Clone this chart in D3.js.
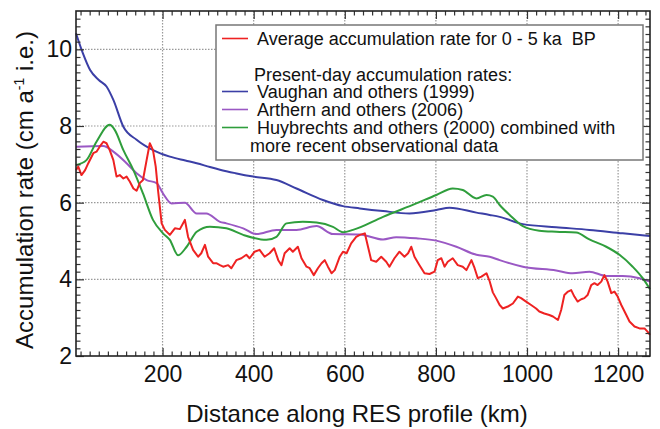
<!DOCTYPE html>
<html>
<head>
<meta charset="utf-8">
<script src="https://cdn.jsdelivr.net/npm/d3@7"></script>
<style>
  html, body { margin: 0; padding: 0; background: #fff; }
  svg { display: block; font-family: "Liberation Sans", Arial, Helvetica, sans-serif; }
  text { white-space: pre; }
</style>
</head>
<body>
<svg id="chart" width="660" height="429"></svg>
<script>
// ---------------- DATA ----------------
const xTicks = [200, 400, 600, 800, 1000, 1200];
const yTicks = [2, 4, 6, 8, 10];

const redKm = [10, 15, 22, 30, 37, 48, 55, 62, 70, 77, 84, 92, 99, 106, 114, 121, 128, 136, 143, 150, 157, 165, 172, 179, 185, 190, 198, 205, 216, 227, 238, 249, 256, 267, 278, 285, 293, 300, 311, 318, 326, 333, 344, 351, 362, 373, 384, 391, 402, 413, 424, 435, 445, 454, 461, 468, 479, 486, 497, 505, 516, 523, 532, 541, 549, 556, 563, 571, 578, 589, 596, 604, 614, 625, 633, 644, 651, 658, 669, 680, 691, 698, 709, 720, 731, 739, 746, 753, 764, 775, 786, 797, 804, 812, 819, 826, 837, 848, 859, 867, 878, 885, 892, 900, 911, 918, 925, 932, 940, 947, 958, 969, 980, 987, 998, 1009, 1020, 1027, 1038, 1049, 1057, 1068, 1075, 1082, 1090, 1097, 1104, 1111, 1119, 1126, 1133, 1141, 1148, 1155, 1163, 1170, 1177, 1185, 1192, 1199, 1207, 1218, 1225, 1236, 1247, 1258, 1265, 1270];
const redVal = [6.85, 6.94, 6.72, 6.85, 7.03, 7.29, 7.33, 7.46, 7.59, 7.55, 7.37, 7.11, 6.68, 6.72, 6.63, 6.68, 6.55, 6.37, 6.31, 6.51, 6.59, 7.11, 7.55, 7.37, 6.94, 6.33, 5.46, 5.29, 5.16, 5.33, 5.31, 5.55, 5.11, 4.77, 4.59, 4.68, 4.90, 4.59, 4.42, 4.42, 4.37, 4.33, 4.37, 4.29, 4.50, 4.55, 4.64, 4.55, 4.72, 4.77, 4.59, 4.68, 4.81, 4.50, 4.37, 4.68, 4.81, 4.72, 4.85, 4.55, 4.33, 4.29, 4.11, 4.29, 4.42, 4.50, 4.33, 4.16, 4.24, 4.59, 4.72, 4.68, 4.94, 5.11, 5.16, 5.20, 4.85, 4.50, 4.46, 4.59, 4.46, 4.33, 4.55, 4.72, 4.59, 4.68, 4.85, 4.59, 4.37, 4.16, 4.14, 4.20, 4.50, 4.55, 4.33, 4.46, 4.55, 4.37, 4.33, 4.24, 4.50, 4.29, 4.03, 4.07, 4.16, 3.95, 3.66, 3.51, 3.33, 3.24, 3.29, 3.37, 3.55, 3.51, 3.42, 3.33, 3.24, 3.16, 3.11, 3.07, 3.03, 2.94, 3.20, 3.59, 3.68, 3.72, 3.55, 3.42, 3.48, 3.51, 3.59, 3.85, 3.90, 3.85, 3.94, 4.11, 3.94, 3.64, 3.68, 3.55, 3.33, 3.07, 2.90, 2.77, 2.72, 2.72, 2.63, 2.55];

const blueKm = [10, 25, 41, 60, 77, 92, 114, 143, 179, 216, 250, 275, 304, 326, 360, 399, 450, 494, 552, 596, 633, 684, 742, 801, 830, 889, 918, 940, 991, 1064, 1137, 1210, 1270];
const blueVal = [10.42, 9.9, 9.46, 9.2, 9.03, 8.68, 7.98, 7.64, 7.37, 7.20, 7.10, 7.03, 6.93, 6.86, 6.77, 6.68, 6.59, 6.37, 6.07, 5.91, 5.85, 5.78, 5.72, 5.81, 5.87, 5.74, 5.68, 5.63, 5.44, 5.36, 5.29, 5.20, 5.13];

const purpleKm = [10, 70, 92, 121, 143, 165, 187, 201, 220, 249, 275, 296, 326, 340, 377, 406, 450, 494, 538, 574, 633, 684, 713, 757, 801, 845, 889, 918, 940, 991, 1064, 1100, 1137, 1174, 1210, 1247, 1270];
const purpleVal = [7.46, 7.48, 7.33, 7.03, 6.77, 6.59, 6.51, 6.24, 5.98, 6.00, 5.72, 5.72, 5.50, 5.46, 5.33, 5.18, 5.29, 5.29, 5.39, 5.18, 5.17, 5.04, 5.10, 5.07, 5.01, 4.85, 4.64, 4.59, 4.50, 4.33, 4.23, 4.16, 4.20, 4.09, 4.09, 4.03, 3.94];

const greenKm = [10, 33, 55, 84, 95, 114, 136, 157, 179, 201, 216, 234, 253, 275, 304, 340, 377, 428, 450, 472, 508, 538, 574, 596, 618, 684, 757, 801, 837, 859, 889, 911, 925, 940, 962, 991, 1027, 1064, 1108, 1137, 1174, 1203, 1232, 1254, 1270];
const greenVal = [6.98, 7.11, 7.59, 8.03, 7.90, 7.37, 6.85, 6.24, 5.55, 5.20, 5.03, 4.63, 4.85, 5.24, 5.37, 5.33, 5.16, 5.03, 5.11, 5.46, 5.50, 5.48, 5.37, 5.23, 5.29, 5.63, 5.98, 6.20, 6.37, 6.33, 6.11, 6.20, 6.16, 5.94, 5.68, 5.39, 5.27, 5.24, 5.22, 5.04, 4.85, 4.64, 4.33, 4.03, 3.74];

const legendLabels = [
  "Average accumulation rate for 0 - 5 ka  BP",
  "Present-day accumulation rates:",
  "Vaughan and others (1999)",
  "Arthern and others (2006)",
  "Huybrechts and others (2000) combined with",
  "more recent observational data"
];
const xTitle = "Distance along RES profile (km)";

// ---------------- CHART ----------------
const colors = { red: "#ee2222", blue: "#3b3fa6", purple: "#9a58c4", green: "#2f9e3c" };
const L = 76, T = 11, R = 650, B = 356;
const svg = d3.select("#chart");
const x = d3.scaleLinear().domain([10, 1270]).range([L, R]);
const y = d3.scaleLinear().domain([2, 11]).range([B, T]);

// grid
const grid = svg.append("g");
grid.selectAll("line.gx").data(xTicks).join("line")
  .attr("x1", d => x(d)).attr("x2", d => x(d)).attr("y1", T).attr("y2", B)
  .attr("stroke", "#999").attr("stroke-width", 1.2).attr("stroke-dasharray", "1.5,1.5");
grid.selectAll("line.gy").data(yTicks.filter(d => d > 2)).join("line")
  .attr("x1", L).attr("x2", R).attr("y1", d => y(d)).attr("y2", d => y(d))
  .attr("stroke", "#999").attr("stroke-width", 1.2).attr("stroke-dasharray", "1.5,1.5");

// series
const line = d3.line().x(d => x(d[0])).y(d => y(d[1]));
function series(km, val, color, curve) {
  svg.append("path")
    .datum(km.map((k, i) => [k, val[i]]))
    .attr("fill", "none").attr("stroke", color).attr("stroke-width", 2)
    .attr("stroke-linejoin", "round")
    .attr("d", line.curve(curve));
}
series(blueKm, blueVal, colors.blue, d3.curveMonotoneX);
series(purpleKm, purpleVal, colors.purple, d3.curveMonotoneX);
series(greenKm, greenVal, colors.green, d3.curveMonotoneX);
series(redKm, redVal, colors.red, d3.curveLinear);

// axes
const minorX = d3.range(20, 1270, 20).filter(d => d % 200 !== 0);
const minorY = d3.range(2.2, 10.95, 0.2).map(d => +d.toFixed(1)).filter(d => Math.abs(d / 2 - Math.round(d / 2)) > 1e-6);
const tickFont = "23px";

function styleAxis(g) {
  g.select(".domain").remove();
  g.selectAll(".tick line").attr("stroke", "#333").attr("stroke-width", 1.2);
  g.selectAll("text").attr("fill", "#111").style("font-size", tickFont)
    .style("font-family", '"Liberation Sans", Arial, sans-serif');
}
// bottom
svg.append("g").attr("transform", `translate(0,${B})`)
  .call(d3.axisBottom(x).tickValues(xTicks).tickSizeInner(-8).tickSizeOuter(0).tickPadding(10).tickFormat(d3.format("d")))
  .call(styleAxis);
svg.append("g").attr("transform", `translate(0,${B})`)
  .call(d3.axisBottom(x).tickValues(minorX).tickSizeInner(-4.5).tickSizeOuter(0).tickFormat(""))
  .call(styleAxis);
// top
svg.append("g").attr("transform", `translate(0,${T})`)
  .call(d3.axisTop(x).tickValues(xTicks).tickSizeInner(-8).tickSizeOuter(0).tickFormat(""))
  .call(styleAxis);
svg.append("g").attr("transform", `translate(0,${T})`)
  .call(d3.axisTop(x).tickValues(minorX).tickSizeInner(-4.5).tickSizeOuter(0).tickFormat(""))
  .call(styleAxis);
// left
svg.append("g").attr("transform", `translate(${L},0)`)
  .call(d3.axisLeft(y).tickValues(yTicks).tickSizeInner(-8).tickSizeOuter(0).tickPadding(4).tickFormat(d3.format("d")))
  .call(styleAxis);
svg.append("g").attr("transform", `translate(${L},0)`)
  .call(d3.axisLeft(y).tickValues(minorY).tickSizeInner(-4.5).tickSizeOuter(0).tickFormat(""))
  .call(styleAxis);
// right
svg.append("g").attr("transform", `translate(${R},0)`)
  .call(d3.axisRight(y).tickValues(yTicks).tickSizeInner(-8).tickSizeOuter(0).tickFormat(""))
  .call(styleAxis);
svg.append("g").attr("transform", `translate(${R},0)`)
  .call(d3.axisRight(y).tickValues(minorY).tickSizeInner(-4.5).tickSizeOuter(0).tickFormat(""))
  .call(styleAxis);

// frame
svg.append("rect").attr("x", L).attr("y", T).attr("width", R - L).attr("height", B - T)
  .attr("fill", "none").attr("stroke", "#222").attr("stroke-width", 1.6);

// axis titles
svg.append("text").attr("x", (L + R) / 2 - 6).attr("y", 422).attr("text-anchor", "middle")
  .style("font-size", "24px").attr("fill", "#111").text(xTitle);
const yt = svg.append("text").attr("transform", "translate(33,190) rotate(-90)")
  .attr("text-anchor", "middle").style("font-size", "24px").attr("fill", "#111");
yt.append("tspan").text("Accumulation rate (cm a");
yt.append("tspan").attr("dy", -9).style("font-size", "14px").text("-1");
yt.append("tspan").attr("dy", 9).text(" i.e.)");

// legend
const lg = svg.append("g");
lg.append("rect").attr("x", 216).attr("y", 25).attr("width", 427).attr("height", 135)
  .attr("fill", "#fff").attr("stroke", "#777").attr("stroke-width", 1.5);
const legendRows = [
  { text: legendLabels[0], color: colors.red, tx: 257, base: 44.5 },
  { text: legendLabels[1], color: null, tx: 254, base: 81 },
  { text: legendLabels[2], color: colors.blue, tx: 257, base: 97.5 },
  { text: legendLabels[3], color: colors.purple, tx: 257, base: 115.5 },
  { text: legendLabels[4], color: colors.green, tx: 257, base: 133.5 },
  { text: legendLabels[5], color: null, tx: 250, base: 151.5 }
];
legendRows.forEach(r => {
  if (r.color) {
    lg.append("line").attr("x1", 222).attr("x2", 248).attr("y1", r.base - 6).attr("y2", r.base - 6)
      .attr("stroke", r.color).attr("stroke-width", 1.6);
  }
  lg.append("text").attr("x", r.tx).attr("y", r.base).style("font-size", "18px")
    .attr("fill", "#111").text(r.text);
});
</script>
</body>
</html>
